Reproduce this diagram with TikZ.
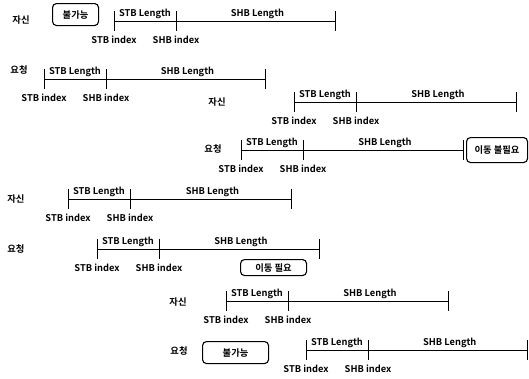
\documentclass[tikz,border=0pt]{standalone}
\usepackage{fontspec}
\setmainfont{Noto Sans CJK KR}[BoldFont={* Bold}]
\usetikzlibrary{calc}
\begin{document}
\begin{tikzpicture}[x=1pt,y=-1pt,
  txt/.style={font=\bfseries\fontsize{9.3}{11}\selectfont, inner sep=0pt},
  lbl/.style={txt},
  bar/.style={line width=0.9pt},
  rbox/.style={draw, line width=1.1pt, rounded corners=4pt, txt, anchor=north west}]
\useasboundingbox (0,0) rectangle (529,378);
\newcommand\tline[5]{% name, xa, xb, xc, y
  \coordinate (#1a) at (#2,#5);
  \coordinate (#1b) at (#3,#5);
  \coordinate (#1c) at (#4,#5);
  \draw[bar] (#1a) -- (#1c);
  \draw[bar] ([yshift=10pt]#1a) -- ([yshift=-10pt]#1a);
  \draw[bar] ([yshift=10pt]#1b) -- ([yshift=-10pt]#1b);
  \draw[bar] ([yshift=10pt]#1c) -- ([yshift=-10pt]#1c);
  \node[txt] (#1sl) at ($(#1a)!0.5!(#1b)+(0,-7)$) {STB Length};
  \node[txt] (#1hl) at ($(#1b)!0.5!(#1c)+(2,-7)$) {SHB Length};
  \node[txt] (#1si) at ($(#1a)+(0,19)$) {STB index};
  \node[txt] (#1hi) at ($(#1b)+(0,19)$) {SHB index};
}
% row 1
\node[lbl] (l1) at (21,20) {자신};
\node[rbox, minimum width=46pt, minimum height=22pt] (x1) at (52,3) {불가능};
\tline{r1}{114}{176}{335}{21}
% row 2
\node[lbl] (l2) at (19,70) {요청};
\tline{r2}{44}{106}{265}{79}
% row 3
\node[lbl] (l3) at (217,102) {자신};
\tline{r3}{294}{356}{516}{102}
% row 4
\node[lbl] (l4) at (213,149) {요청};
\tline{r4}{241}{303}{463}{150}
\node[rbox, minimum width=61pt, minimum height=25pt] (x4) at (466,137) {이동 불필요};
% row 5
\node[lbl] (l5) at (16,199) {자신};
\tline{r5}{68}{130}{291}{199}
% row 6
\node[lbl] (l6) at (16,249) {요청};
\tline{r6}{97}{159}{319}{249}
\node[rbox, minimum width=66pt, minimum height=16pt] (x6) at (240,259) {이동 필요};
% row 7
\node[lbl] (l7) at (178,302) {자신};
\tline{r7}{226}{288}{448}{301}
% row 8
\node[lbl] (l8) at (179,351) {요청};
\node[rbox, minimum width=66pt, minimum height=22pt] (x8) at (202,341) {불가능};
\tline{r8}{306}{368}{527.5}{350}
\end{tikzpicture}
\end{document}
